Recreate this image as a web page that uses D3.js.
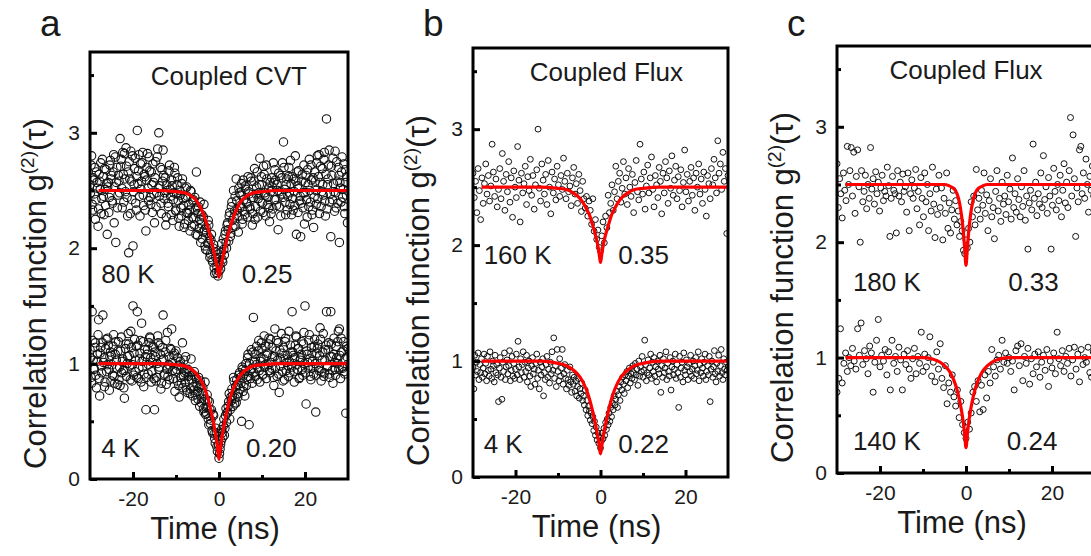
<!DOCTYPE html>
<html>
<head>
<meta charset="utf-8">
<script src="https://cdn.jsdelivr.net/npm/d3@7"></script>
<style>
    body { margin: 0; background: #fff; }
    svg { display: block; }
    text { font-family: "Liberation Sans", Arial, sans-serif; fill: #1a1a1a; }
</style>
</head>
<body>
<div id="chart"></div>
<script>
const width = 1091;
const height = 556;

// ---- data ----
const panelLetters = ["a", "b", "c"];
const panelTitles = ["Coupled CVT", "Coupled Flux", "Coupled Flux"];
const tempLabels = [["80 K", "4 K"], ["160 K", "4 K"], ["180 K", "140 K"]];
const dipLabels = [["0.25", "0.20"], ["0.35", "0.22"], ["0.33", "0.24"]];

const timeDomain = [-30, 30];
const gDomain = [0, 3.7];
const xTicks = [-20, 0, 20];
const xMinor = [-10, 10];
const yTicks = [0, 1, 2, 3];
const yMinor = [0.5, 1.5, 2.5, 3.5];

// measured g2 points: one value per time bin, bins start at the given time
const stepA = 0.25, stepB160 = 0.3, stepB4 = 0.2, stepC180 = 0.3, stepC140 = 0.4;

const a80K = [
 2.55,2.72,2.38,2.61, 2.47,2.25,2.66,2.52, 2.34,2.58,2.74,2.43, 2.62,2.29,2.51,2.68,
 2.12,2.57,2.44,2.76, 2.63,2.39,2.81,2.53, 2.05,2.70,2.46,2.58, 2.95,2.77,2.35,2.64,
 2.82,2.49,2.71,2.28, 1.96,2.60,2.84,2.42, 2.02,2.55,2.78,2.33, 3.02,2.67,2.45,2.73,
 2.58,2.83,2.37,2.62, 2.15,2.70,2.52,2.79, 2.44,2.66,2.31,2.57, 2.22,2.75,2.48,2.86,
 3.00,2.54,2.39,2.68, 2.85,2.43,2.61,2.27, 2.50,2.36,2.72,2.45, 2.59,2.24,2.48,2.65,
 2.32,2.55,2.41,2.19, 2.46,2.28,2.60,2.37, 2.21,2.44,2.53,2.30, 2.38,2.15,2.49,2.27,
 2.42,2.20,2.33,2.66, 2.11,2.36,2.25,2.05, 2.29,2.14,2.38,2.02, 2.18,1.98,2.24,2.09,
 1.95,2.12,1.88,2.03, 1.78,1.92,1.84,1.76, 1.80,1.86,1.96,1.90, 2.08,1.94,2.15,2.00,
 2.22,2.06,2.31,2.13, 2.40,2.18,2.27,2.45, 2.60,2.33,2.14,2.48, 2.37,2.56,2.25,2.42,
 2.29,2.51,2.39,2.62, 2.47,2.34,2.58,2.20, 2.44,2.69,2.36,2.53, 2.27,2.48,2.78,2.40,
 2.55,2.31,2.64,2.46, 2.72,2.38,2.52,2.23, 2.49,2.61,2.34,2.57, 2.68,2.42,2.55,2.16,
 2.36,2.63,2.47,2.74, 2.92,2.51,2.29,2.60, 2.45,2.70,2.38,2.56, 2.62,2.33,2.49,2.80,
 2.12,2.54,2.67,2.41, 2.10,2.58,2.35,2.72, 2.48,2.63,2.27,2.55, 2.77,2.40,2.59,2.33,
 2.18,2.66,2.50,2.74, 2.43,2.81,2.57,2.36, 2.69,2.46,2.83,2.28, 3.12,2.55,2.72,2.40,
 2.10,2.63,2.78,2.49, 2.84,2.35,2.58,2.70, 2.05,2.52,2.66,2.44, 2.73,2.30,2.57,2.62,
 2.50
];
// second detector pass, bins offset by half a step
const a80Kb = [
 2.48,2.80,2.33,2.59, 2.70,2.42,2.57,2.19, 2.64,2.51,2.30,2.77, 2.45,2.69,2.37,2.56,
 2.53,2.31,2.72,2.60, 2.41,2.66,2.22,2.79, 2.57,2.35,2.63,2.48, 2.71,2.52,2.83,2.40,
 2.60,2.87,2.44,2.66, 2.75,2.30,2.58,2.80, 2.49,2.69,2.39,2.62, 2.56,2.81,2.28,2.51,
 2.74,2.46,2.64,2.33, 2.59,2.82,2.41,2.67, 2.38,2.55,2.73,2.47, 2.61,2.36,2.79,2.52,
 2.45,2.70,2.30,2.58, 2.63,2.48,2.20,2.55, 2.39,2.67,2.51,2.29, 2.54,2.42,2.70,2.33,
 2.47,2.61,2.26,2.50, 2.35,2.56,2.43,2.18, 2.52,2.31,2.45,2.24, 2.33,2.50,2.19,2.41,
 2.26,2.44,2.12,2.35, 2.30,2.17,2.40,2.21, 2.08,2.27,2.16,1.99, 2.13,2.04,2.20,1.92,
 2.07,1.90,2.00,1.83, 1.97,1.79,1.88,1.95, 1.92,1.82,2.04,1.88, 1.99,2.12,2.05,2.20,
 2.16,2.28,2.10,2.36, 2.24,2.50,2.32,2.19, 2.41,2.28,2.52,2.35, 2.46,2.21,2.59,2.32,
 2.54,2.40,2.27,2.49, 2.36,2.61,2.44,2.30, 2.58,2.25,2.47,2.66, 2.43,2.55,2.32,2.62,
 2.39,2.71,2.48,2.28, 2.60,2.44,2.35,2.57, 2.30,2.53,2.74,2.42, 2.59,2.37,2.50,2.65,
 2.49,2.28,2.61,2.44, 2.70,2.40,2.55,2.33, 2.62,2.48,2.76,2.29, 2.43,2.60,2.37,2.58,
 2.66,2.31,2.52,2.45, 2.39,2.64,2.48,2.21, 2.57,2.42,2.68,2.36, 2.50,2.72,2.29,2.61,
 2.44,2.58,2.38,2.80, 2.62,2.30,2.71,2.49, 2.55,2.77,2.41,2.64, 2.34,2.60,2.85,2.47,
 2.71,2.42,2.56,2.32, 2.48,2.75,2.39,2.63, 2.57,2.40,2.79,2.51, 2.36,2.68,2.46,2.22
];
const a4K = [
 1.12,0.88,1.45,1.03, 0.95,1.18,0.79,1.08, 1.38,0.72,1.14,0.92, 1.42,1.05,0.84,1.21,
 0.99,1.16,0.77,1.10, 1.07,0.90,1.25,0.83, 1.19,0.96,1.11,0.86, 0.81,1.23,1.02,0.94,
 0.70,1.13,0.89,1.06, 1.17,0.98,1.28,0.85, 1.50,1.09,0.93,1.15, 1.45,0.87,1.04,1.20,
 1.35,0.97,0.80,1.12, 0.60,1.08,0.91,1.18, 1.22,0.84,1.01,1.14, 0.60,1.06,0.88,1.24,
 0.95,1.16,0.78,1.03, 1.42,0.90,1.10,0.82, 1.27,0.99,0.86,1.13, 1.30,0.94,1.07,0.76,
 1.11,0.85,0.98,0.71, 1.02,0.83,1.18,0.89, 0.92,1.06,0.77,0.95, 0.86,0.74,1.04,0.90,
 0.80,0.93,0.68,0.87, 0.76,0.88,0.63,0.82, 0.70,0.79,0.58,0.84, 0.62,0.73,0.52,0.67,
 0.48,0.60,0.40,0.55, 0.35,0.44,0.28,0.37, 0.18,0.26,0.33,0.40, 0.46,0.38,0.55,0.49,
 0.58,0.67,0.52,0.71, 0.78,0.63,0.85,0.70, 0.66,0.82,0.74,0.92, 0.88,0.50,0.95,0.80,
 0.72,1.00,0.86,1.08, 0.47,0.94,1.12,0.83, 1.40,1.02,0.89,1.15, 0.97,1.20,0.84,1.05,
 1.13,0.91,1.24,0.99, 0.87,1.09,1.17,0.94, 1.21,0.96,1.06,0.81, 1.30,1.11,0.89,1.18,
 0.75,1.04,1.26,0.93, 1.14,0.86,1.22,1.01, 0.98,1.28,0.92,1.10, 1.45,1.07,0.84,1.16,
 1.23,0.95,1.13,0.88, 1.05,1.19,0.90,1.27, 1.50,0.65,1.08,0.97, 1.25,0.89,1.14,1.02,
 0.91,1.21,0.58,1.09, 1.17,0.94,1.31,0.85, 1.03,1.26,0.92,1.12, 1.45,0.97,1.18,0.88,
 1.45,1.06,0.83,1.22, 0.95,1.15,1.00,1.28, 1.30,0.87,1.10,0.96, 1.19,0.91,0.57,1.06,
 1.13
];
const a4Kb = [
 1.05,0.83,1.20,0.96, 1.14,0.90,1.02,1.25, 0.87,1.09,0.98,1.18, 1.01,0.80,1.13,0.93,
 1.22,0.95,1.06,0.85, 0.99,1.15,0.89,1.08, 1.03,0.82,1.19,0.97, 1.11,0.92,1.04,0.79,
 0.94,1.17,1.00,1.26, 1.07,0.86,1.14,0.99, 0.90,1.21,1.03,0.88, 1.16,0.96,1.09,0.84,
 1.02,1.19,0.91,1.06, 0.88,1.12,0.99,1.23, 1.05,0.93,1.15,0.87, 1.10,0.85,1.00,1.18,
 0.97,1.08,0.83,1.14, 1.04,0.91,1.20,0.95, 0.89,1.06,0.98,1.12, 1.01,0.87,1.09,0.93,
 0.95,1.05,0.81,0.99, 0.88,0.97,0.79,1.03, 0.84,0.93,0.75,0.89, 0.92,0.78,0.86,0.72,
 0.77,0.89,0.73,0.81, 0.69,0.79,0.85,0.66, 0.74,0.61,0.69,0.56, 0.57,0.68,0.47,0.60,
 0.51,0.42,0.56,0.39, 0.31,0.40,0.24,0.30, 0.22,0.30,0.43,0.36, 0.52,0.44,0.61,0.57,
 0.63,0.74,0.60,0.68, 0.72,0.88,0.65,0.80, 0.86,0.71,0.90,0.78, 0.83,0.97,0.76,0.91,
 0.94,0.81,1.05,0.89, 1.00,0.87,0.96,1.10, 0.92,1.08,0.99,0.86, 1.11,0.94,1.02,1.18,
 0.90,1.04,0.97,1.15, 1.07,0.99,1.22,0.92, 1.01,1.14,0.88,1.06, 0.96,1.20,1.03,0.91,
 1.12,0.98,1.09,0.85, 1.04,1.19,0.94,1.07, 0.89,1.02,1.16,0.97, 1.10,0.93,1.05,1.24,
 0.99,1.13,0.87,1.03, 1.08,0.95,1.17,1.00, 0.92,1.11,1.01,1.20, 1.04,0.86,1.09,0.97,
 1.15,1.00,0.90,1.13, 0.96,1.07,1.21,0.93, 1.10,0.89,1.03,1.16, 0.98,1.12,0.91,1.06,
 1.17,0.94,1.08,1.01, 0.90,1.05,1.19,0.95, 1.07,1.22,0.97,1.11, 0.93,1.04,1.15,0.99
];
const b160K = [
 2.62,2.41,2.55,2.28,2.66,2.47,2.22,2.58,2.36,2.53,
 2.70,2.44,2.60,2.38,2.51,2.87,2.63,2.42,2.57,2.33,
 2.48,2.66,2.40,2.79,2.55,2.30,2.61,2.46,2.72,2.37,
 2.58,2.24,2.64,2.50,2.41,2.85,2.56,2.20,2.62,2.45,
 2.53,2.68,2.35,2.59,2.47,2.74,2.43,2.60,2.31,2.52,
 2.65,3.00,2.49,2.38,2.70,2.56,2.44,2.61,2.35,2.73,
 2.50,2.27,2.63,2.45,2.57,2.39,2.68,2.52,2.42,2.60,
 2.48,2.75,2.55,2.40,2.62,2.46,2.51,2.34,2.58,2.67,
 2.44,2.53,2.36,2.61,2.47,2.29,2.55,2.40,2.32,2.42,
 2.25,2.38,2.30,2.18,2.40,2.12,2.22,2.05,2.13,1.98,
 1.95,2.08,2.20,2.02,2.25,2.15,2.43,2.28,2.36,2.52,
 2.30,2.46,2.68,2.40,2.55,2.62,2.37,2.49,2.72,2.44,
 2.58,2.35,2.66,2.50,2.42,2.61,2.28,2.54,2.73,2.46,
 2.39,2.87,2.57,2.44,2.63,2.31,2.51,2.69,2.45,2.58,
 2.76,2.48,2.33,2.60,2.52,2.41,2.67,2.55,2.27,2.62,
 2.45,2.72,2.58,2.36,2.64,2.49,2.77,2.43,2.56,2.68,
 2.40,2.59,2.47,2.65,2.33,2.54,2.82,2.46,2.61,2.38,
 2.55,2.67,2.43,2.58,2.30,2.62,2.50,2.70,2.44,2.57,
 2.36,2.63,2.48,2.25,2.60,2.53,2.40,2.66,2.52,2.74,
 2.58,2.45,2.90,2.62,2.70,2.48,2.80,2.55,2.66,2.10,
 2.60
];
const b4K = [
 0.95,0.76,1.05,0.88,0.99,0.91,1.07,0.84,0.97,0.90,
 1.02,0.86,0.94,1.06,0.89,0.98,0.83,1.04,0.92,0.87,
 1.08,0.93,0.85,1.00,0.96,0.82,1.05,0.90,0.97,0.88,
 0.65,0.94,1.03,0.86,0.67,0.99,0.91,1.07,0.84,0.95,
 1.01,0.89,0.96,1.09,0.83,0.92,1.04,0.87,0.98,0.85,
 0.93,1.06,0.88,1.17,0.95,0.84,1.02,0.90,0.97,1.08,
 0.86,0.99,0.91,1.05,0.82,0.94,1.00,0.87,0.78,0.96,
 1.03,0.89,0.93,0.80,0.98,1.06,0.85,0.92,0.76,0.99,
 0.88,0.95,1.02,0.70,0.90,0.84,0.97,1.04,0.86,0.93,
 0.81,0.99,0.89,1.08,0.92,1.20,0.85,0.96,0.78,1.10,
 0.91,0.83,1.02,0.87,0.94,1.10,0.80,0.89,0.97,0.85,
 0.76,0.92,0.84,0.79,0.95,0.82,0.73,0.88,0.80,0.86,
 0.74,0.83,0.70,0.78,0.85,0.68,0.76,0.72,0.81,0.66,
 0.70,0.62,0.75,0.58,0.66,0.53,0.61,0.57,0.49,0.55,
 0.46,0.52,0.40,0.48,0.36,0.43,0.32,0.38,0.29,0.34,
 0.25,0.31,0.38,0.33,0.42,0.36,0.47,0.41,0.50,0.45,
 0.55,0.48,0.60,0.52,0.64,0.58,0.70,0.62,0.67,0.74,
 0.60,0.71,0.78,0.66,0.82,0.75,0.86,0.80,0.72,0.88,
 0.83,0.91,0.77,0.87,0.94,0.81,0.89,0.85,0.96,0.90,
 0.84,0.98,0.88,0.93,0.79,1.00,0.87,0.95,0.91,1.04,
 0.86,0.92,1.18,0.97,0.83,0.90,1.01,0.88,0.94,1.06,
 0.85,0.99,0.91,1.03,0.87,0.95,0.82,1.00,0.93,0.89,
 1.05,0.73,0.96,0.86,1.02,0.90,0.94,1.08,0.84,0.98,
 0.91,0.87,1.03,0.75,0.95,1.00,0.88,0.93,1.06,0.85,
 0.97,0.90,0.60,1.04,0.86,0.94,0.99,0.82,1.07,0.92,
 0.88,1.01,0.95,0.84,0.98,0.91,1.05,0.87,0.93,1.00,
 0.85,0.96,1.03,0.89,0.92,1.08,0.83,0.97,0.90,1.02,
 0.94,0.87,0.99,1.06,0.84,0.91,0.96,0.88,1.04,0.65,
 0.93,1.00,0.86,0.95,1.09,0.89,0.82,0.98,0.91,1.05,
 0.87,0.96,1.10,0.90,0.84,1.02,0.93,0.88,0.99,0.92,
 0.95
];
const c180K = [
 2.68,2.30,2.55,2.42,2.21,2.60,2.45,2.36,2.83,2.50,
 2.62,2.82,2.40,2.78,2.25,2.57,2.80,2.48,2.00,2.62,
 2.35,2.44,2.58,2.29,2.50,2.38,2.82,2.46,2.55,2.33,
 2.61,2.42,2.52,2.27,2.47,2.58,2.36,2.44,2.40,2.65,
 2.49,2.05,2.38,2.57,2.45,2.42,2.08,2.62,2.40,2.52,
 2.35,2.59,2.44,2.48,2.26,2.60,2.10,2.42,2.54,2.38,
 2.47,2.63,2.29,2.44,2.15,2.56,2.38,2.22,2.60,2.35,
 2.50,2.10,2.42,2.27,2.65,2.33,2.04,2.46,2.24,2.58,
 2.30,2.47,2.02,2.38,2.25,2.60,2.12,2.34,2.08,2.28,
 2.45,2.20,2.36,2.15,2.27,2.05,2.18,2.10,1.93,1.90,
 2.02,1.95,2.12,2.00,2.35,2.22,2.40,2.15,2.63,2.28,
 2.38,2.20,2.45,2.32,2.60,2.25,2.41,2.10,2.36,2.55,
 2.22,2.30,2.03,2.44,2.62,2.27,2.38,2.18,2.52,2.33,
 2.40,2.24,2.58,2.35,2.46,2.20,2.73,2.30,2.42,2.26,
 2.55,2.37,2.22,2.48,2.31,2.62,2.19,2.40,1.94,2.34,
 2.45,2.28,2.85,2.38,2.52,2.23,2.42,2.33,2.60,2.30,
 2.75,2.37,2.48,2.25,2.56,2.40,1.94,2.32,2.64,2.44,
 2.28,2.50,2.36,2.58,2.22,2.45,2.68,2.34,2.52,2.30,
 2.62,3.08,2.40,2.93,2.55,2.05,2.47,2.35,2.80,2.83,
 2.42,2.60,2.38,2.72,2.50,2.26,2.57,2.45,2.66,2.40,
 2.50
];
const c140K = [
 0.70,0.82,1.25,0.78,0.95,1.04,0.88,1.00,0.93,1.08,
 0.97,0.90,1.25,1.02,1.30,0.94,1.06,0.99,0.86,1.10,
 1.04,0.70,0.96,1.15,1.33,0.92,1.02,0.97,1.07,0.85,
 1.05,0.72,1.15,0.95,1.01,0.88,1.09,0.98,0.72,1.03,
 0.94,1.06,0.90,0.82,0.99,1.08,0.86,1.01,0.95,1.22,
 0.88,1.03,0.92,1.00,1.18,0.84,0.96,0.79,1.05,0.90,
 1.12,0.82,0.74,0.93,0.60,0.78,0.70,0.85,0.66,0.58,
 0.72,0.48,0.62,0.42,0.35,0.30,0.44,0.38,0.52,0.70,
 0.75,0.62,0.80,0.53,0.76,0.55,0.85,0.65,0.88,0.78,
 1.07,0.92,0.84,0.98,1.02,0.90,1.15,0.96,1.04,0.95,
 1.00,0.88,0.97,0.72,1.06,1.10,0.93,1.12,0.80,1.01,
 0.95,1.08,0.77,0.99,0.86,1.03,0.92,1.05,0.83,0.96,
 1.02,0.89,1.07,0.75,0.97,0.91,1.04,0.86,1.22,0.99,
 0.93,1.06,0.88,1.01,0.95,1.08,0.84,0.98,1.09,0.90,
 1.03,0.79,1.07,0.94,1.00,0.96,1.09,0.87,0.83,1.05,
 0.98
];

// fitted curves (red), sampled at fitT
const fitT = [-28,-20,-14,-10,-8,-6,-5,-4,-3,-2.5,-2,-1.5,-1,-0.6,-0.3,0,
              0.3,0.6,1,1.5,2,2.5,3,4,5,6,8,10,14,20,30];
const fitA80 = [2.50,2.50,2.50,2.49,2.48,2.44,2.40,2.33,2.23,2.17,2.10,2.02,1.94,1.87,1.81,1.75,
                1.81,1.87,1.94,2.02,2.10,2.17,2.23,2.33,2.40,2.44,2.48,2.49,2.50,2.50,2.50];
const fitA4 = [1.00,1.00,1.00,0.99,0.98,0.94,0.90,0.84,0.75,0.69,0.61,0.53,0.43,0.34,0.26,0.17,
               0.26,0.34,0.43,0.53,0.61,0.69,0.75,0.84,0.90,0.94,0.98,0.99,1.00,1.00,1.00];
const fitB160 = [2.50,2.50,2.50,2.49,2.48,2.44,2.41,2.36,2.29,2.25,2.19,2.13,2.06,1.99,1.92,1.85,
                 1.92,1.99,2.06,2.13,2.19,2.25,2.29,2.36,2.41,2.44,2.48,2.49,2.50,2.50,2.50];
const fitB4 = [1.00,1.00,1.00,0.98,0.96,0.91,0.87,0.81,0.72,0.66,0.59,0.51,0.42,0.34,0.27,0.20,
               0.27,0.34,0.42,0.51,0.59,0.66,0.72,0.81,0.87,0.91,0.96,0.98,1.00,1.00,1.00];
const fitC180 = [2.50,2.50,2.50,2.50,2.50,2.50,2.50,2.49,2.47,2.45,2.41,2.34,2.22,2.08,1.94,1.80,
                 1.94,2.08,2.22,2.34,2.41,2.45,2.47,2.49,2.50,2.50,2.50,2.50,2.50,2.50,2.50];
const fitC140 = [1.00,1.00,1.00,1.00,0.99,0.96,0.93,0.89,0.82,0.77,0.71,0.63,0.53,0.43,0.33,0.22,
                 0.33,0.43,0.53,0.63,0.71,0.77,0.82,0.89,0.93,0.96,0.99,1.00,1.00,1.00,1.00];

// ---- layout ----
const panels = [
    { left: 90,  right: 348,  top: 52, bottom: 479, r: 4.2, sw: 1.1,
      series: [[a80K, -30, stepA], [a80Kb, -29.875, stepA], [a4K, -30, stepA], [a4Kb, -29.875, stepA]],
      fits: [fitA80, fitA4],
      titleT: 2.3, tempT: -27.4, dipT: [5.3, 6.3], labelY: [1.70, 0.19] },
    { left: 473, right: 728,  top: 48, bottom: 477, r: 2.9, sw: 1,
      series: [[b160K, -30, stepB160], [b4K, -30, stepB4]],
      fits: [fitB160, fitB4],
      titleT: 1.4, tempT: -27.5, dipT: [4.2, 4.2], labelY: [1.84, 0.21] },
    { left: 837, right: 1095, top: 46, bottom: 473, r: 3, sw: 1,
      series: [[c180K, -30, stepC180], [c140K, -30, stepC140]],
      fits: [fitC180, fitC140],
      titleT: 0, tempT: -26.3, dipT: [9.8, 9.5], labelY: [1.58, 0.20] }
];

const svg = d3.select("#chart").append("svg")
    .attr("width", width)
    .attr("height", height);

panels.forEach((p, i) => drawPanel(p, i));

function drawPanel(p, i) {
    const g = svg.append("g");

    const x = d3.scaleLinear().domain(timeDomain).range([p.left, p.right]);
    const y = d3.scaleLinear().domain(gDomain).range([p.bottom, p.top]);

    const clipId = "clip" + i;
    g.append("clipPath").attr("id", clipId)
        .append("rect")
        .attr("x", p.left).attr("y", p.top)
        .attr("width", p.right - p.left).attr("height", p.bottom - p.top);

    const plot = g.append("g").attr("clip-path", `url(#${clipId})`);

    // scatter points
    p.series.forEach(([vals, t0, step]) => {
        plot.append("g").selectAll("circle")
            .data(vals)
            .enter()
            .append("circle")
            .attr("cx", (d, k) => x(t0 + k * step))
            .attr("cy", d => y(d))
            .attr("r", p.r)
            .attr("fill", "none")
            .attr("stroke", "#111")
            .attr("stroke-width", p.sw);
    });

    // fits
    const line = d3.line()
        .x((d, k) => x(fitT[k]))
        .y(d => y(d))
        .curve(d3.curveMonotoneX);

    p.fits.forEach(f => {
        plot.append("path")
            .attr("d", line(f))
            .attr("fill", "none")
            .attr("stroke", "#ff0000")
            .attr("stroke-width", 3.2);
    });

    // axes, ticks pointing inward
    g.append("g")
        .attr("transform", `translate(0,${p.bottom})`)
        .call(d3.axisBottom(x).tickValues(xTicks).tickSize(-7).tickPadding(12).tickFormat(d => String(d)));
    g.append("g")
        .attr("transform", `translate(0,${p.bottom})`)
        .call(d3.axisBottom(x).tickValues(xMinor).tickSize(-4).tickFormat(""));

    g.append("g")
        .attr("transform", `translate(${p.left},0)`)
        .call(d3.axisLeft(y).tickValues(yTicks).tickSize(-7).tickPadding(10).tickFormat(d => String(d)));
    g.append("g")
        .attr("transform", `translate(${p.left},0)`)
        .call(d3.axisLeft(y).tickValues(yMinor).tickSize(-4).tickFormat(""));

    g.selectAll(".domain").remove();
    g.selectAll(".tick line").attr("stroke", "#000").attr("stroke-width", 3);
    g.selectAll(".tick text")
        .attr("font-size", 21)
        .attr("font-family", '"Liberation Sans", Arial, sans-serif')
        .attr("fill", "#1a1a1a");

    // frame
    g.append("rect")
        .attr("x", p.left).attr("y", p.top)
        .attr("width", p.right - p.left).attr("height", p.bottom - p.top)
        .attr("fill", "none")
        .attr("stroke", "#000")
        .attr("stroke-width", 3);

    // panel letter
    g.append("text")
        .attr("x", p.left - 50).attr("y", 36)
        .attr("font-size", 37)
        .text(panelLetters[i]);

    // title
    g.append("text")
        .attr("x", x(p.titleT)).attr("y", p.top + 33)
        .attr("text-anchor", "middle")
        .attr("font-size", 26)
        .text(panelTitles[i]);

    // temperatures and g2(0) values
    [0, 1].forEach(j => {
        g.append("text")
            .attr("x", x(p.tempT)).attr("y", y(p.labelY[j]))
            .attr("font-size", 26)
            .text(tempLabels[i][j]);
        g.append("text")
            .attr("x", x(p.dipT[j])).attr("y", y(p.labelY[j]))
            .attr("font-size", 26)
            .text(dipLabels[i][j]);
    });

    // axis titles
    g.append("text")
        .attr("x", (p.left + p.right) / 2 - 4).attr("y", p.bottom + 60)
        .attr("text-anchor", "middle")
        .attr("font-size", 31)
        .text("Time (ns)");

    const yl = g.append("text")
        .attr("transform", `translate(${p.left - 44},${(p.top + p.bottom) / 2 + 28}) rotate(-90)`)
        .attr("text-anchor", "middle")
        .attr("font-size", 31);
    yl.append("tspan").text("Correlation function g");
    yl.append("tspan").attr("font-size", 19).attr("dy", -12).text("(2)");
    yl.append("tspan").attr("dy", 12).text("(\u03c4)");
}
</script>
</body>
</html>
